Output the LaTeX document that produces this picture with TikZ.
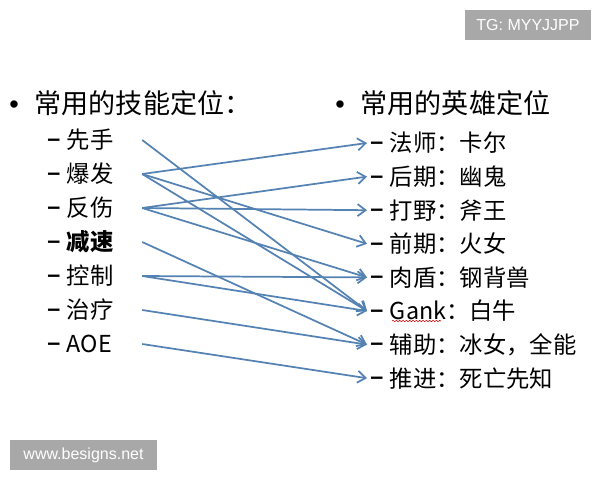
\documentclass[tikz,border=0pt]{standalone}
\usepackage{fontspec}
\setmainfont{Noto Sans CJK SC}
\newfontfamily\wmfont{Liberation Sans}
\usetikzlibrary{arrows.meta,decorations.pathmorphing}
\definecolor{linkblue}{RGB}{84,130,178}
\definecolor{wmgray}{RGB}{168,168,168}
\newcommand\dsh{\raisebox{1.8pt}{\wmfont\bfseries –}\hspace{5pt}}
\begin{document}
\begin{tikzpicture}[x=.75pt,y=-.75pt,
 head/.style={anchor=west,inner sep=0pt,font=\fontsize{20.3}{23}\selectfont},
 skill/.style={anchor=west,inner sep=0pt,text width=71pt,font=\fontsize{17.5}{20}\selectfont},
 hero/.style={anchor=west,inner sep=0pt,outer sep=2.5pt,font=\fontsize{17.5}{20}\selectfont},
 link/.style={draw=linkblue,line width=1.3pt,-{Straight Barb[length=6pt,width=9pt]}},
 wm/.style={fill=wmgray,text=white,font=\wmfont\fontsize{12}{14}\selectfont,inner sep=0pt,minimum height=22.5pt}]
\useasboundingbox (0,0) rectangle (600,480);
% headers
\path (9,103) node[head] (hl) {{\wmfont •}\hspace{12pt}常用的技能定位：}
 (335,103) node[head] (hr) {{\wmfont •}\hspace{12pt}常用的英雄定位};
% skills
\path (47,140) node[skill] (s1) {\dsh 先手} ++(0,34) node[skill] (s2) {\dsh 爆发} ++(0,34) node[skill] (s3) {\dsh 反伤}
 ++(0,34) node[skill] (s4) {\dsh\bfseries 减速} ++(0,34) node[skill] (s5) {\dsh 控制} ++(0,34) node[skill] (s6) {\dsh 治疗}
 ++(0,34) node[skill] (s7) {\dsh AOE};
% heroes
\path (367,143) node[hero] (h1) {\dsh 法师：卡尔} ++(0,33.6) node[hero] (h2) {\dsh 后期：幽鬼} ++(0,33.6) node[hero] (h3) {\dsh 打野：斧王}
 ++(0,33.6) node[hero] (h4) {\dsh 前期：火女} ++(0,33.6) node[hero] (h5) {\dsh 肉盾：钢背兽} ++(0,33.6) node[hero] (h6) {\dsh Gank：白牛}
 ++(0,33.6) node[hero] (h7) {\dsh 辅助：冰女，全能} ++(0,33.6) node[hero] (h8) {\dsh 推进：死亡先知};
\foreach \a/\b in {s1/h6, s2/h1, s2/h4, s2/h6, s3/h2, s3/h3, s3/h5, s4/h7, s5/h5, s5/h6, s6/h7, s7/h8}
 \draw[link] (\a.east) -- (\b.west);
\draw[red!80!black,line width=.4pt,decorate,decoration={snake,amplitude=.5pt,segment length=2.5pt}] (392,321) -- (441,321);
% watermarks
\node[wm,minimum width=94.5pt] (tg) at (528,25) {TG: MYYJJPP};
\node[wm,minimum width=110pt] (bs) at (83.5,455) {www.besigns.net};
\end{tikzpicture}
\end{document}
